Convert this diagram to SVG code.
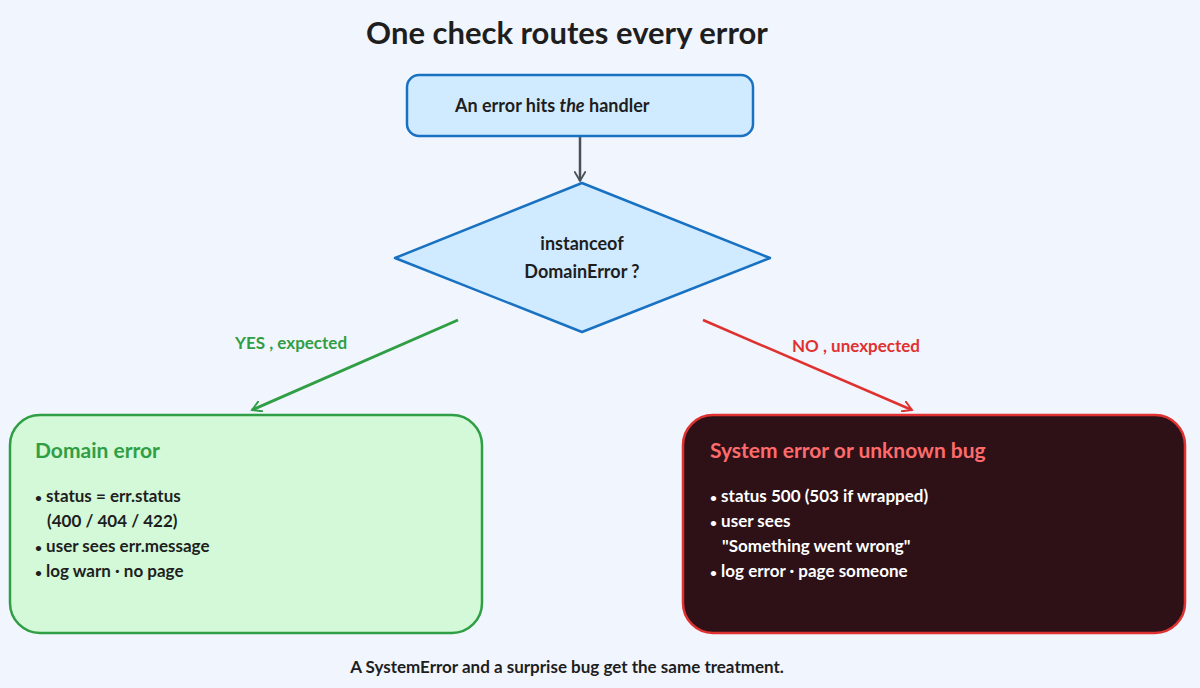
<svg xmlns="http://www.w3.org/2000/svg" width="1200" height="688" viewBox="0 0 1200 688">
<defs>
<style>
text{font-family:Lato,"Noto Sans",sans-serif;font-weight:bold}
.b{font-size:17px;fill:#1e1e1e}
.w{font-size:17px;fill:#ffffff}
.d{font-size:12px}
</style>
<marker id="ag" markerWidth="12" markerHeight="12" refX="0" refY="0" viewBox="-12 -8 14 16" orient="auto" markerUnits="userSpaceOnUse"><path d="M-12,-7 L0,0 L-12,7" fill="none" stroke="#2f9e44" stroke-width="2.5" stroke-linecap="round"/></marker>
<marker id="ar" markerWidth="12" markerHeight="12" refX="0" refY="0" viewBox="-12 -8 14 16" orient="auto" markerUnits="userSpaceOnUse"><path d="M-12,-7 L0,0 L-12,7" fill="none" stroke="#e03131" stroke-width="2.5" stroke-linecap="round"/></marker>
<marker id="ak" markerWidth="12" markerHeight="12" refX="0" refY="0" viewBox="-12 -8 14 16" orient="auto" markerUnits="userSpaceOnUse"><path d="M-12,-7 L0,0 L-12,7" fill="none" stroke="#495057" stroke-width="2.5" stroke-linecap="round"/></marker>
</defs>
<rect width="1200" height="688" fill="#f1f5fd"/>
<text x="567" y="44" text-anchor="middle" font-size="31" fill="#1e1e1e">One check routes every error</text>
<g id="connectors">
<line x1="580" y1="137" x2="580" y2="181" stroke="#495057" stroke-width="2.5" marker-end="url(#ak)"/>
<line x1="458" y1="320" x2="252" y2="410" stroke="#2f9e44" stroke-width="3" marker-end="url(#ag)"/>
<line x1="703" y1="320" x2="912" y2="410" stroke="#e03131" stroke-width="2.5" marker-end="url(#ar)"/>
<text x="291" y="349" text-anchor="middle" font-size="17" fill="#2f9e44">YES , expected</text>
<text x="856" y="352" text-anchor="middle" font-size="17" fill="#e03131">NO , unexpected</text>
</g>
<g id="start">
<rect x="407" y="75" width="346" height="61" rx="12" fill="#d0ebff" stroke="#1971c2" stroke-width="2.5"/>
<text x="455" y="112" font-size="18" fill="#1e1e1e">An error hits <tspan font-style="italic">the</tspan> handler</text>
</g>
<g id="decision">
<polygon points="582,183 770,258 582,332 395,258" fill="#d0ebff" stroke="#1971c2" stroke-width="2.5" stroke-linejoin="round"/>
<text x="582" y="250" text-anchor="middle" font-size="18" fill="#1e1e1e">instanceof</text>
<text x="582" y="278" text-anchor="middle" font-size="18" fill="#1e1e1e">DomainError ?</text>
</g>
<g id="domain">
<rect x="10" y="415" width="472" height="218" rx="30" fill="#d3f9d8" stroke="#2f9e44" stroke-width="2.5"/>
<text x="35" y="458" font-size="21" fill="#2f9e44">Domain error</text>
<text x="35" y="502" class="b"><tspan class="d">•</tspan> status = err.status</text>
<text x="47" y="527" class="b">(400 / 404 / 422)</text>
<text x="35" y="552" class="b"><tspan class="d">•</tspan> user sees err.message</text>
<text x="35" y="577" class="b"><tspan class="d">•</tspan> log warn · no page</text>
</g>
<g id="system">
<rect x="683" y="415" width="502" height="218" rx="30" fill="#2d1117" stroke="#e03131" stroke-width="2.5"/>
<text x="710" y="458" font-size="21" fill="#ff6b6b">System error or unknown bug</text>
<text x="710" y="502" class="w"><tspan class="d">•</tspan> status 500 (503 if wrapped)</text>
<text x="710" y="527" class="w"><tspan class="d">•</tspan> user sees</text>
<text x="722" y="552" class="w">"Something went wrong"</text>
<text x="710" y="577" class="w"><tspan class="d">•</tspan> log error · page someone</text>
</g>
<text x="567" y="673" text-anchor="middle" font-size="17" fill="#1e1e1e">A SystemError and a surprise bug get the same treatment.</text>
</svg>
